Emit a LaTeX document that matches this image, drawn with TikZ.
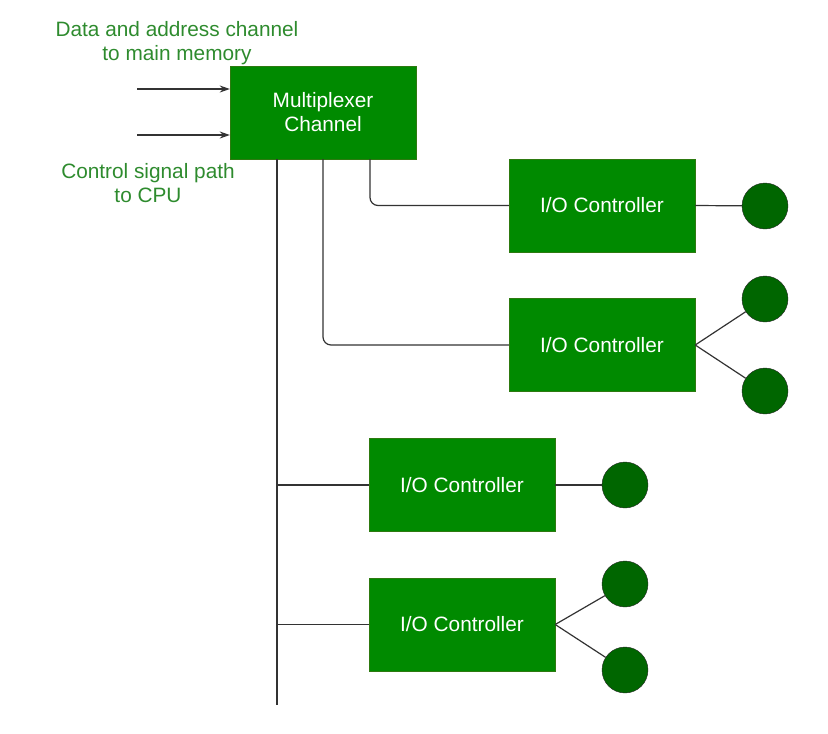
\documentclass[tikz,border=0pt]{standalone}
\usepackage{fontspec}
\setmainfont{Liberation Sans}
\usetikzlibrary{positioning, arrows.meta}

\definecolor{boxgreen}{HTML}{008A00}
\definecolor{boxline}{HTML}{2D7A10}
\definecolor{devgreen}{HTML}{006600}
\definecolor{labelgreen}{HTML}{2E8B2E}

\tikzset{
  chanbox/.style={draw=boxline, fill=boxgreen, text=white, align=center,
    minimum width=186pt, minimum height=93pt, font=\fontsize{20.8}{24}\selectfont},
  device/.style={draw=black!85, fill=devgreen, circle, minimum size=46pt, inner sep=0pt},
  wire/.style={draw=black!80, line width=1.2pt},
  infolabel/.style={text=labelgreen, align=center, font=\fontsize{20.8}{24}\selectfont}
}

\begin{document}
\begin{tikzpicture}[x=1pt, y=-1pt]
    \useasboundingbox (0,0) rectangle (828,734);

    % Channel and controllers
    \node[chanbox] (mux) at (323,112.5) {Multiplexer\\Channel};
    \foreach \n/\x/\y in {1/602/205.5, 2/602/345, 3/462/485, 4/462/624.5} {
      \node[chanbox] (io\n) at (\x,\y) {I/O Controller};
    }

    % Devices
    \foreach \n/\x/\y in {1/765/206, 2a/765/299, 2b/765/391, 3/625/485, 4a/625/584, 4b/625/670} {
      \node[device] (dev\n) at (\x,\y) {};
    }

    % Labels on the left
    \node[infolabel] (memlabel) at (177,43.5) {Data and address channel\\to main memory};
    \node[infolabel] (cpulabel) at (148,183.5) {Control signal path\\to CPU};

    % Inputs to the channel
    \coordinate (in1) at (137,89);
    \coordinate (in2) at (137,135);
    \draw[wire, -{Stealth[length=10pt, width=7pt]}] (in1) -- (in1 -| mux.west);
    \draw[wire, -{Stealth[length=10pt, width=7pt]}] (in2) -- (in2 -| mux.west);

    % Channel to controllers
    \draw[wire, rounded corners=8pt] ([xshift=47pt]mux.south) |- (io1.west);
    \draw[wire, rounded corners=8pt] (mux.south) |- (io2.west);
    \coordinate (busend) at (277,705);
    \draw[wire] ([xshift=-46pt]mux.south) -- (busend);
    \draw[wire] (io3.west -| busend) -- (io3.west);
    \draw[wire] (io4.west -| busend) -- (io4.west);

    % Controllers to devices
    \draw[wire] (io1.east) -- (dev1);
    \draw[wire] (io2.east) -- (dev2a);
    \draw[wire] (io2.east) -- (dev2b);
    \draw[wire] (io3.east) -- (dev3);
    \draw[wire] (io4.east) -- (dev4a);
    \draw[wire] (io4.east) -- (dev4b);

\end{tikzpicture}
\end{document}
